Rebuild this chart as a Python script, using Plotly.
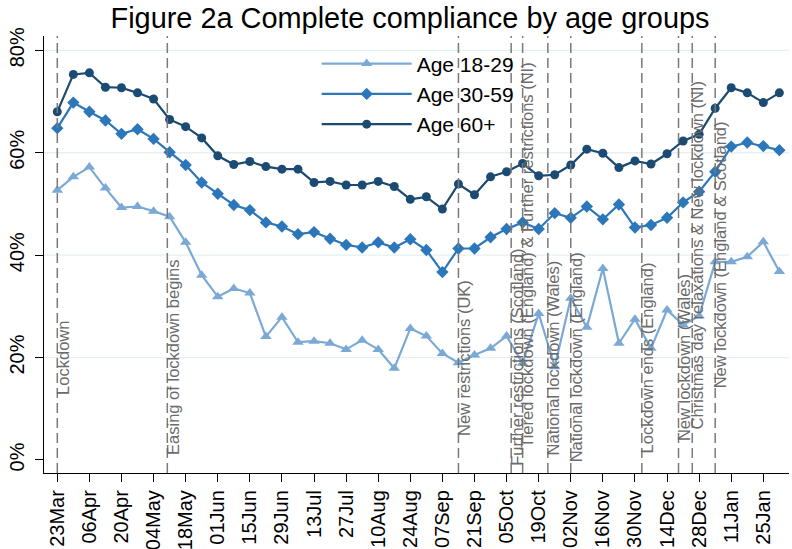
import pandas as pd
import plotly.graph_objects as go

# ---------------- data ----------------
weeks = pd.date_range("2020-03-23", periods=46, freq="7D")

age_18_29 = [52.7, 55.3, 57.2, 53.1, 49.3, 49.5, 48.6, 47.5, 42.5, 36.1,
             31.9, 33.5, 32.6, 24.1, 27.9, 23.0, 23.2, 22.8, 21.6, 23.4,
             21.6, 17.9, 25.7, 24.2, 20.8, 19.0, 20.5, 21.8, 24.2, 18.9,
             28.6, 18.2, 31.6, 25.9, 37.4, 22.8, 27.5, 21.8, 29.3, 26.4,
             28.1, 38.7, 38.7, 39.7, 42.6, 36.8]
age_30_59 = [64.8, 69.8, 68.0, 66.3, 63.7, 64.6, 62.7, 60.1, 57.6, 54.2,
             52.0, 49.8, 48.8, 46.4, 45.6, 44.1, 44.5, 43.2, 42.0, 41.5,
             42.5, 41.5, 43.1, 41.0, 36.7, 41.3, 41.3, 43.5, 45.1, 46.4,
             45.1, 48.2, 47.3, 49.5, 47.0, 49.9, 45.4, 45.9, 47.3, 50.3,
             52.4, 56.3, 61.2, 62.0, 61.3, 60.5]
age_60_plus = [68.0, 75.3, 75.6, 72.8, 72.7, 71.7, 70.5, 66.5, 65.1, 62.9,
               59.4, 57.7, 58.3, 57.3, 56.8, 56.8, 54.2, 54.4, 53.7, 53.7,
               54.4, 53.4, 50.9, 51.4, 49.0, 53.9, 51.8, 55.3, 56.3, 57.9,
               55.5, 55.7, 57.6, 60.7, 59.9, 57.1, 58.4, 57.8, 59.8, 62.3,
               63.6, 68.7, 72.7, 71.7, 69.8, 71.7]

tick_dates = ["2020-03-23", "2020-04-06", "2020-04-20", "2020-05-04", "2020-05-18",
              "2020-06-01", "2020-06-15", "2020-06-29", "2020-07-13", "2020-07-27",
              "2020-08-10", "2020-08-24", "2020-09-07", "2020-09-21", "2020-10-05",
              "2020-10-19", "2020-11-02", "2020-11-16", "2020-11-30", "2020-12-14",
              "2020-12-28", "2021-01-11", "2021-01-25"]
tick_labels = ["23Mar", "06Apr", "20Apr", "04May", "18May", "01Jun", "15Jun", "29Jun",
               "13Jul", "27Jul", "10Aug", "24Aug", "07Sep", "21Sep", "05Oct", "19Oct",
               "02Nov", "16Nov", "30Nov", "14Dec", "28Dec", "11Jan", "25Jan"]

y_ticks = [0, 20, 40, 60, 80]
y_tick_labels = ["0%", "20%", "40%", "60%", "80%"]
grid_values = [20, 40, 60, 80]

event_dates = ["2020-03-23", "2020-05-10", "2020-09-14", "2020-10-07", "2020-10-12",
               "2020-10-23", "2020-11-02", "2020-12-03", "2020-12-19", "2020-12-25",
               "2021-01-04"]
event_labels = ["Lockdown", "Easing of lockdown begins", "New restrictions (UK)",
                "Further restrictions (Scotland)",
                "Tiered lockdown (England) & Further restrictions (NI)",
                "National lockdown (Wales)", "National lockdown (England)",
                "Lockdown ends (England)", "New lockdown (Wales)",
                "Christmas day relaxations & New lockdown (NI)",
                "New lockdown (England & Scotland)"]
event_label_y = [20, 20, 20, 20, 40, 20, 20, 20, 20, 40, 40]

# ---------------- figure ----------------
FONT = "Liberation Sans, Arial, sans-serif"
C_LIGHT = "#7BA9D6"
C_MID = "#2C77BA"
C_DARK = "#1B4A72"

fig = go.Figure()
fig.add_trace(go.Scatter(x=weeks, y=age_18_29, name="Age 18-29", mode="lines+markers",
                         line=dict(color=C_LIGHT, width=2.2),
                         marker=dict(symbol="triangle-up", size=10, color=C_LIGHT)))
fig.add_trace(go.Scatter(x=weeks, y=age_30_59, name="Age 30-59", mode="lines+markers",
                         line=dict(color=C_MID, width=2.2),
                         marker=dict(symbol="diamond", size=9.5, color=C_MID)))
fig.add_trace(go.Scatter(x=weeks, y=age_60_plus, name="Age 60+", mode="lines+markers",
                         line=dict(color=C_DARK, width=2.2),
                         marker=dict(symbol="circle", size=9, color=C_DARK)))

shapes = []
for g in grid_values:
    shapes.append(dict(type="line", xref="paper", x0=0, x1=1, yref="y", y0=g, y1=g,
                       line=dict(color="#E6EFF2", width=1.3), layer="below"))
for d in event_dates:
    shapes.append(dict(type="line", xref="x", x0=d, x1=d, yref="paper", y0=0, y1=1,
                       line=dict(color="#7a7a7a", width=1.5, dash="10px,5px"), layer="above"))

annotations = []
for d, lab, ly in zip(event_dates, event_labels, event_label_y):
    annotations.append(dict(x=d, y=ly, xref="x", yref="y", text=lab, showarrow=False,
                            textangle=-90, xanchor="left", yanchor="middle", xshift=-6,
                            font=dict(family=FONT, size=16.5, color="#6b6b6b")))

x0 = pd.Timestamp("2020-03-23") - pd.Timedelta(days=5.8)
x1 = x0 + pd.Timedelta(days=325.0)

fig.update_layout(
    width=792, height=549,
    margin=dict(l=44, r=3, t=36, b=76, autoexpand=False),
    paper_bgcolor="white", plot_bgcolor="white",
    font=dict(family=FONT, color="black"),
    title=dict(text="Figure 2a Complete compliance by age groups", x=0.5177, xref="container",
               xanchor="center", y=0.967, yanchor="middle", yref="container",
               font=dict(family=FONT, size=28.9, color="black")),
    showlegend=True,
    legend=dict(x=0.366, y=0.983, xanchor="left", yanchor="top", bgcolor="rgba(0,0,0,0)",
                font=dict(family=FONT, size=21, color="black"), itemwidth=90,
                tracegroupgap=0),
    shapes=shapes, annotations=annotations,
)
fig.update_xaxes(range=[x0, x1], tickvals=tick_dates, ticktext=tick_labels, tickangle=-90,
                 automargin=False,
                 showgrid=False, zeroline=False, showline=True, linecolor="black", linewidth=1.3,
                 ticks="outside", ticklen=8, tickwidth=1.3, tickcolor="black",
                 tickfont=dict(family=FONT, size=20, color="black"))
fig.update_yaxes(range=[-2.54, 82.8], tickvals=y_ticks, ticktext=y_tick_labels, tickangle=-90,
                 automargin=False, ticklabelstandoff=3,
                 showgrid=False, zeroline=False, showline=True, linecolor="black", linewidth=1.3,
                 ticks="outside", ticklen=8, tickwidth=1.3, tickcolor="black",
                 tickfont=dict(family=FONT, size=20, color="black"))

fig.write_html("out.html",
               config={"displayModeBar": False},
               post_script="document.body.style.margin='0px';"
                           "document.body.style.overflow='hidden';")
